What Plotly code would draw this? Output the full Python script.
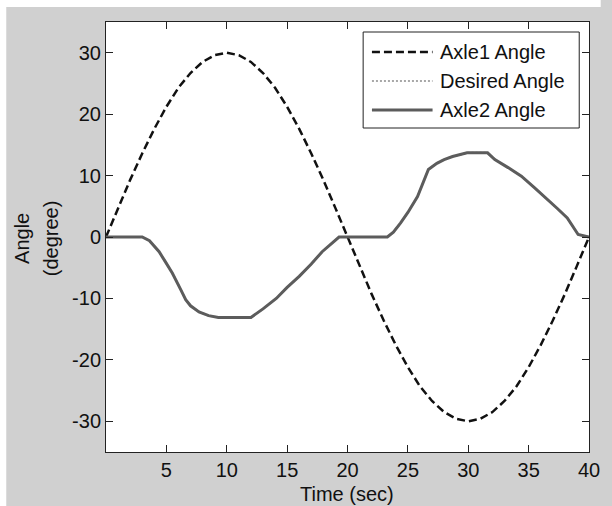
import plotly.graph_objects as go

# Axle1 angle (dashed), read at 1 s steps
t1 = list(range(0, 41))
axle1 = [0, 4.7, 9.3, 13.6, 17.6, 21.2, 24.3, 26.7, 28.5, 29.6, 30.0,
         29.6, 28.5, 26.7, 24.3, 21.2, 17.6, 13.6, 9.3, 4.7, 0,
         -4.7, -9.3, -13.6, -17.6, -21.2, -24.3, -26.7, -28.5, -29.6, -30.0,
         -29.6, -28.5, -26.7, -24.3, -21.2, -17.6, -13.6, -9.3, -4.7, 0]

# Axle2 / desired angle (read at breakpoints)
t2 = [0, 3.0, 3.6, 4.4, 5.0, 5.5, 6.2, 6.6, 7.0, 7.7, 8.5, 9.3, 12.0, 13.0,
      14.1, 15.0, 16.0, 17.0, 17.9, 18.6, 19.3, 23.3, 23.8, 24.4, 25.0, 25.8,
      26.7, 27.4, 28.0, 28.7, 29.9, 31.6, 32.2, 33.3, 34.4, 35.5, 36.6, 37.4,
      38.2, 39.1, 40.0]
axle2 = [0, 0, -0.6, -2.4, -4.3, -5.9, -8.6, -10.2, -11.2, -12.2, -12.8, -13.1,
         -13.1, -11.7, -10.0, -8.2, -6.4, -4.4, -2.4, -1.2, 0, 0, 0.8, 2.3, 4.0,
         6.6, 11.0, 12.0, 12.6, 13.1, 13.7, 13.7, 12.6, 11.3, 9.9, 8.0, 6.1, 4.6,
         3.1, 0.4, 0]
desired = list(axle2)

series_names = ["Axle1 Angle", "Desired Angle", "Axle2 Angle"]
x_ticks = [5, 10, 15, 20, 25, 30, 35, 40]
y_ticks = [-30, -20, -10, 0, 10, 20, 30]
y_tick_text = ["-30", "-20", "-10", "0", "10", "20", "30"]

FONT = "Liberation Sans, Arial, sans-serif"
GRAY = "#d0d0d0"
AX = "#222222"
TXT = "#111111"
styles = [dict(color="#111111", width=2.5, dash="8px,4px"),
          dict(color="#a8a8a8", width=2, dash="2px,2px"),
          dict(color="#5c5c5c", width=3)]

fig = go.Figure()
fig.add_trace(go.Scatter(x=t1, y=axle1, mode="lines", name=series_names[0], line=styles[0]))
fig.add_trace(go.Scatter(x=t2, y=desired, mode="lines", name=series_names[1], line=styles[1]))
fig.add_trace(go.Scatter(x=t2, y=axle2, mode="lines", name=series_names[2], line=styles[2]))

L, R, T, B = 106, 12, 22, 54
W, H = 612, 506
pw, ph = W - L - R, H - T - B

def px(xp):
    return (xp - L) / pw

def py(yp):
    return (H - B - yp) / ph

shapes = [
    dict(type="rect", xref="paper", yref="paper", x0=px(0), x1=px(W),
         y0=py(7), y1=py(-5), fillcolor="white", line=dict(width=0), layer="below"),
    dict(type="rect", xref="paper", yref="paper", x0=px(-5), x1=px(4),
         y0=py(H + 5), y1=py(-5), fillcolor="white", line=dict(width=0), layer="below"),
    # legend box
    dict(type="rect", xref="paper", yref="paper", x0=px(369), x1=px(590),
         y0=py(128), y1=py(32), fillcolor="white", line=dict(color=AX, width=1)),
]
annotations = []
rows = [52, 81, 110]
for name, st, ry in zip(series_names, styles, rows):
    shapes.append(dict(type="line", xref="paper", yref="paper", x0=px(378), x1=px(440),
                       y0=py(ry), y1=py(ry), line=st))
    annotations.append(dict(text=name, xref="paper", yref="paper", x=px(446), y=py(ry),
                            xanchor="left", yanchor="middle", showarrow=False,
                            font=dict(size=20, color=TXT)))

# axis titles
annotations.append(dict(text="Angle", xref="paper", yref="paper", x=px(20), y=py(238),
                        textangle=-90, xanchor="center", yanchor="middle", showarrow=False,
                        font=dict(size=20, color=TXT)))
annotations.append(dict(text="(degree)", xref="paper", yref="paper", x=px(50), y=py(238),
                        textangle=-90, xanchor="center", yanchor="middle", showarrow=False,
                        font=dict(size=20, color=TXT)))
annotations.append(dict(text="Time (sec)", xref="paper", yref="paper", x=px(352), y=py(494),
                        xanchor="center", yanchor="middle", showarrow=False,
                        font=dict(size=20, color=TXT)))

fig.update_layout(
    width=W, height=H,
    margin=dict(l=L, r=R, t=T, b=B),
    paper_bgcolor=GRAY,
    plot_bgcolor="white",
    font=dict(family=FONT, size=20, color=TXT),
    showlegend=False,
    xaxis=dict(range=[0, 40], tickvals=x_ticks, ticks="inside", ticklen=7,
               tickcolor=AX, showline=True, linecolor=AX, linewidth=1,
               mirror="ticks", showgrid=False, zeroline=False),
    yaxis=dict(range=[-35, 35], tickvals=y_ticks, ticktext=y_tick_text,
               ticks="inside", ticklen=7,
               tickcolor=AX, showline=True, linecolor=AX, linewidth=1,
               mirror="ticks", showgrid=False, zeroline=False),
    shapes=shapes,
    annotations=annotations,
)

fig.write_html(
    "out.html",
    config={"displayModeBar": False},
    post_script="document.body.style.margin='0';document.body.style.padding='0';"
                "document.body.style.overflow='hidden';",
)
